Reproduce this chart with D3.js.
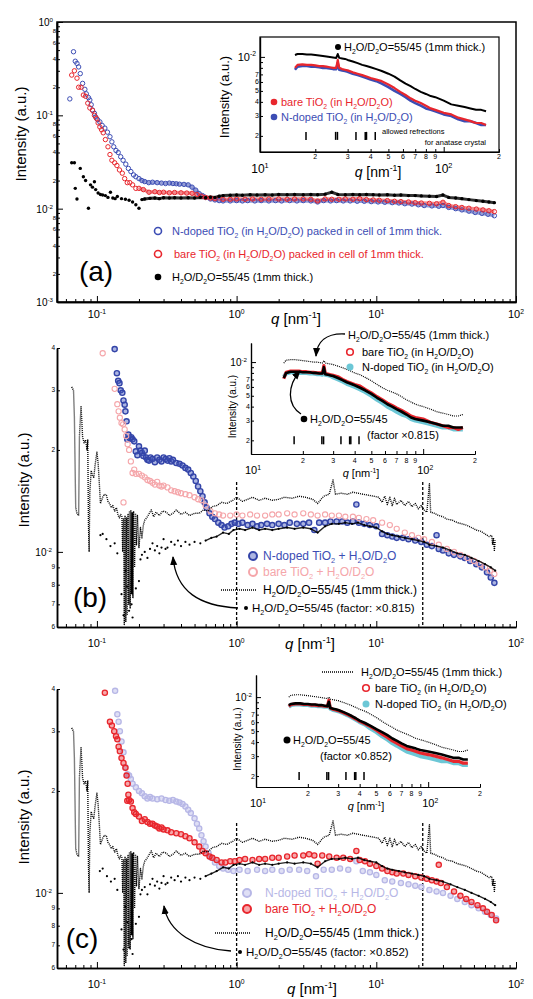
<!DOCTYPE html>
<html>
<head>
<meta charset="utf-8">
<script src="https://cdn.jsdelivr.net/npm/d3@7"></script>
<style>
body { margin: 0; background: #fff; }
svg { display: block; }
text { font-family: "Liberation Sans", Arial, sans-serif; white-space: pre; }
</style>
</head>
<body>
<svg id="chart" width="533" height="999"></svg>
<script>
// ---------- data (q in nm^-1, intensity in a.u.) ----------

// panel (a), main plot
const nDopedA = [[0.064,0.15],[0.068,0.48],[0.070,0.38],[0.072,0.36],[0.074,0.33],[0.076,0.28],[0.079,0.22],[0.082,0.19],[0.084,0.17],[0.087,0.155],[0.089,0.146],[0.091,0.13],[0.093,0.114],[0.096,0.105],[0.098,0.096],[0.101,0.09],[0.105,0.085],[0.109,0.078],[0.114,0.073],[0.119,0.066],[0.124,0.059],[0.128,0.052],[0.132,0.046],[0.137,0.042],[0.142,0.040],[0.148,0.036],[0.154,0.033],[0.161,0.030],[0.168,0.027],[0.175,0.025],[0.183,0.023],[0.19,0.022],[0.2,0.021],[0.21,0.020],[0.22,0.0195],[0.235,0.019],[0.25,0.0192],[0.27,0.019],[0.29,0.0188],[0.31,0.0186],[0.33,0.0188],[0.35,0.0186],[0.37,0.0185],[0.39,0.0183],[0.42,0.0182],[0.45,0.018],[0.48,0.017],[0.51,0.0158],[0.54,0.0145],[0.57,0.0138],[0.6,0.0132],[0.65,0.0127],[0.7,0.0124],[0.75,0.0122],[0.8,0.0121],[0.9,0.0121],[1.0,0.0122],[1.1,0.0121],[1.2,0.0122],[1.35,0.0121],[1.5,0.0122],[1.7,0.0121],[1.9,0.0122],[2.1,0.0121],[2.4,0.0122],[2.7,0.0121],[3.0,0.0122],[3.4,0.0121],[3.8,0.0118],[4.2,0.0122],[4.7,0.0121],[5.2,0.0122],[5.8,0.0121],[6.5,0.0121],[7.3,0.0120],[8.2,0.0120],[9.2,0.0119],[10.3,0.0118],[11.5,0.0117],[13,0.0116],[14.5,0.0115],[16,0.0113],[18,0.0112],[20,0.0110],[22,0.0108],[25,0.0107],[28,0.0106],[30,0.0108],[33,0.0103],[37,0.0100],[41,0.0097],[46,0.0094],[51,0.0091],[57,0.0089],[63,0.0087],[70,0.0084]];
const bareA = [[0.066,0.27],[0.069,0.30],[0.072,0.25],[0.074,0.20],[0.077,0.2],[0.080,0.165],[0.083,0.16],[0.086,0.135],[0.089,0.12],[0.093,0.113],[0.096,0.1],[0.099,0.093],[0.102,0.083],[0.105,0.075],[0.108,0.07],[0.111,0.065],[0.115,0.055],[0.12,0.046],[0.124,0.038],[0.128,0.033],[0.134,0.031],[0.139,0.029],[0.145,0.026],[0.152,0.024],[0.158,0.021],[0.165,0.019],[0.172,0.019],[0.18,0.018],[0.19,0.0165],[0.2,0.0165],[0.215,0.016],[0.236,0.015],[0.26,0.0152],[0.28,0.0149],[0.3,0.015],[0.33,0.0148],[0.36,0.0149],[0.4,0.0148],[0.44,0.0147],[0.48,0.0146],[0.52,0.0142],[0.56,0.0136],[0.6,0.0132],[0.65,0.013],[0.7,0.0128],[0.8,0.0126],[0.9,0.0126],[1.0,0.0127],[1.15,0.0126],[1.3,0.0127],[1.5,0.0126],[1.7,0.0127],[2,0.0127],[2.3,0.0126],[2.6,0.0127],[3,0.0127],[3.4,0.0126],[3.8,0.0121],[4.3,0.0127],[4.8,0.0126],[5.4,0.0126],[6,0.0127],[6.8,0.0126],[7.6,0.0128],[8.5,0.0125],[9.5,0.0124],[10.5,0.0123],[12,0.0122],[13.5,0.012],[15,0.0119],[17,0.0118],[19,0.0116],[21,0.0115],[24,0.0114],[27,0.0113],[30,0.0117],[33,0.0108],[37,0.0105],[41,0.0103],[46,0.0101],[52,0.0099],[58,0.0097],[64,0.0095],[70,0.0093]];
const waterA = [[0.066,0.031],[0.069,0.031],[0.070,0.0165],[0.072,0.0127],[0.076,0.027],[0.080,0.022],[0.083,0.020],[0.087,0.0101],[0.09,0.018],[0.093,0.017],[0.096,0.0194],[0.098,0.016],[0.102,0.0147],[0.106,0.0142],[0.11,0.014],[0.115,0.0138],[0.12,0.0132],[0.125,0.015],[0.13,0.013],[0.135,0.0128],[0.14,0.0135],[0.15,0.0128],[0.16,0.0126],[0.17,0.0123],[0.18,0.0118],[0.19,0.011],[0.2,0.0101],[0.21,0.0125],[0.22,0.0127],[0.24,0.0129],[0.26,0.013],[0.28,0.0128],[0.3,0.0131],[0.33,0.013],[0.36,0.0131],[0.4,0.013],[0.45,0.0131],[0.5,0.013],[0.55,0.0132],[0.6,0.0131],[0.65,0.0133],[0.7,0.0132],[0.75,0.0136],[0.8,0.0138],[0.9,0.0139],[1,0.0140],[1.1,0.0139],[1.25,0.0141],[1.4,0.014],[1.6,0.0141],[1.8,0.014],[2,0.0142],[2.3,0.0141],[2.6,0.0142],[3,0.0141],[3.4,0.0142],[3.8,0.0141],[4.3,0.0143],[4.8,0.015],[5.3,0.0142],[6,0.0141],[6.8,0.0142],[7.6,0.0141],[8.5,0.0142],[9.5,0.0141],[10.5,0.0140],[12,0.0141],[13.5,0.0139],[15,0.0140],[17,0.0138],[19,0.0138],[21,0.0137],[24,0.0136],[27,0.0135],[30,0.0140],[33,0.0132],[37,0.0130],[41,0.0128],[46,0.0125],[52,0.0122],[58,0.0120],[64,0.0118],[70,0.0116]];

// panels (b) and (c), main plots
const nDopedB = [[0.134,0.0397],[0.139,0.0337],[0.142,0.032],[0.145,0.0315],[0.148,0.030],[0.152,0.0295],[0.155,0.028],[0.158,0.0272],[0.16,0.026],[0.163,0.0243],[0.165,0.0215],[0.168,0.0222],[0.172,0.0217],[0.176,0.0218],[0.18,0.0215],[0.185,0.0212],[0.19,0.0198],[0.195,0.0193],[0.2,0.0205],[0.205,0.0199],[0.21,0.0196],[0.215,0.0192],[0.22,0.0199],[0.225,0.019],[0.23,0.0187],[0.236,0.0186],[0.242,0.019],[0.25,0.0188],[0.26,0.0184],[0.27,0.019],[0.28,0.0187],[0.29,0.0185],[0.3,0.019],[0.31,0.0188],[0.32,0.0186],[0.33,0.0189],[0.34,0.0185],[0.35,0.0187],[0.37,0.0183],[0.39,0.0182],[0.41,0.018],[0.43,0.0177],[0.45,0.0175],[0.47,0.0171],[0.49,0.0167],[0.51,0.0162],[0.53,0.0156],[0.55,0.0151],[0.57,0.0146],[0.59,0.014],[0.61,0.0135],[0.64,0.013],[0.67,0.0127],[0.7,0.0125],[0.74,0.0122],[0.78,0.012],[0.82,0.0118],[0.87,0.0119],[0.92,0.0121],[0.97,0.0122],[1.03,0.0121],[1.1,0.0122],[1.2,0.012],[1.3,0.0121],[1.4,0.0119],[1.5,0.012],[1.65,0.0121],[1.8,0.012],[2,0.0121],[2.2,0.012],[2.4,0.0122],[2.7,0.0121],[3,0.0121],[3.3,0.0122],[3.6,0.0116],[3.9,0.0122],[4.3,0.0122],[4.7,0.0123],[5.2,0.0123],[5.7,0.0123],[6.2,0.0122],[6.8,0.0123],[7.2,0.0138],[7.5,0.0122],[8.2,0.0121],[9,0.012],[10,0.0119],[11,0.0113],[12,0.0112],[13,0.0111],[14,0.011],[15.5,0.011],[17,0.0109],[19,0.0108],[21,0.0107],[23,0.0105],[25,0.0104],[27,0.0112],[28,0.0102],[30,0.0101],[33,0.0099],[36,0.0098],[40,0.0097],[43,0.0096],[47,0.0094],[52,0.0092],[57,0.009],[62,0.0087],[66,0.0084],[70,0.0081]];
const bareB = [[0.11,0.0386],[0.134,0.0303],[0.14,0.0273],[0.143,0.026],[0.146,0.0249],[0.15,0.024],[0.154,0.0238],[0.155,0.014],[0.158,0.023],[0.162,0.022],[0.166,0.0208],[0.17,0.02],[0.175,0.0185],[0.18,0.0171],[0.185,0.0175],[0.19,0.017],[0.2,0.017],[0.21,0.0168],[0.22,0.0166],[0.23,0.0163],[0.24,0.0162],[0.25,0.016],[0.26,0.0158],[0.27,0.0161],[0.28,0.0157],[0.29,0.0156],[0.3,0.0157],[0.32,0.0155],[0.34,0.0152],[0.36,0.0151],[0.38,0.015],[0.4,0.0149],[0.43,0.0148],[0.46,0.0147],[0.5,0.0145],[0.53,0.0143],[0.56,0.0142],[0.6,0.0137],[0.65,0.0132],[0.7,0.013],[0.75,0.0129],[0.8,0.0128],[0.9,0.0128],[1,0.0129],[1.1,0.0128],[1.25,0.0129],[1.4,0.0128],[1.6,0.0128],[1.8,0.0129],[2,0.0129],[2.3,0.013],[2.6,0.0129],[3,0.013],[3.4,0.0129],[3.8,0.0128],[4.3,0.0129],[4.8,0.0128],[5.4,0.0128],[6,0.0127],[6.8,0.0127],[7.5,0.0126],[8.5,0.0125],[9.5,0.0124],[11,0.0122],[12.5,0.012],[14,0.0117],[16,0.0114],[18,0.0112],[20,0.011],[22,0.0109],[25,0.0107],[28,0.0105],[32,0.0102],[36,0.01],[40,0.0098],[45,0.0096],[50,0.0094],[55,0.0092],[60,0.009],[65,0.0088],[70,0.0086]];
const water1mm = [[0.066,0.0307],[0.068,0.030],[0.069,0.025],[0.0705,0.0135],[0.072,0.013],[0.074,0.0128],[0.075,0.022],[0.077,0.027],[0.079,0.0218],[0.081,0.021],[0.083,0.0214],[0.085,0.020],[0.086,0.0214],[0.087,0.012],[0.088,0.010],[0.089,0.015],[0.091,0.0174],[0.093,0.0168],[0.095,0.0166],[0.097,0.018],[0.1,0.0197],[0.102,0.0183],[0.104,0.016],[0.106,0.0139],[0.108,0.0142],[0.11,0.0145],[0.113,0.0148],[0.117,0.0147],[0.12,0.0141],[0.123,0.0139],[0.127,0.0135],[0.13,0.0137],[0.134,0.0132],[0.138,0.0135],[0.142,0.0128],[0.145,0.0126],[0.148,0.0129],[0.151,0.0127],[0.153,0.0100],[0.155,0.0125],[0.157,0.0061],[0.159,0.0128],[0.161,0.0062],[0.163,0.0126],[0.165,0.0065],[0.167,0.0129],[0.169,0.0070],[0.171,0.0132],[0.173,0.0068],[0.175,0.0133],[0.177,0.0075],[0.179,0.0131],[0.181,0.0073],[0.183,0.0132],[0.186,0.0090],[0.189,0.0130],[0.192,0.0105],[0.195,0.0128],[0.2,0.0103],[0.205,0.0118],[0.21,0.011],[0.215,0.012],[0.22,0.0124],[0.227,0.0126],[0.235,0.0129],[0.245,0.0133],[0.255,0.0127],[0.265,0.0131],[0.28,0.0128],[0.295,0.0132],[0.315,0.0131],[0.33,0.0128],[0.35,0.013],[0.37,0.0133],[0.4,0.0129],[0.43,0.0131],[0.46,0.0128],[0.5,0.013],[0.54,0.013],[0.58,0.0133],[0.62,0.0132],[0.67,0.0136],[0.72,0.0137],[0.78,0.014],[0.85,0.0139],[0.94,0.0142],[1.0,0.0145],[1.1,0.0141],[1.2,0.0143],[1.3,0.0145],[1.45,0.0142],[1.6,0.0144],[1.8,0.0142],[2.0,0.0143],[2.2,0.0145],[2.5,0.0144],[2.8,0.0146],[3.1,0.0145],[3.5,0.0143],[3.8,0.0139],[4.2,0.0146],[4.6,0.0148],[4.9,0.0163],[5.1,0.0148],[5.6,0.0149],[6.2,0.0148],[6.8,0.0150],[7.4,0.0149],[8,0.0148],[8.8,0.0147],[9.6,0.0146],[10.4,0.0145],[11,0.0140],[11.5,0.0146],[12,0.0138],[12.5,0.0145],[13,0.0137],[13.5,0.0144],[14,0.0138],[15,0.0142],[16,0.0137],[17,0.0141],[18,0.0136],[19,0.0139],[20,0.0134],[21,0.0137],[22,0.0133],[23,0.0131],[24,0.0159],[24.5,0.0131],[26,0.0130],[28,0.0128],[30,0.0127],[32,0.0125],[35,0.0124],[38,0.0122],[41,0.0121],[44,0.0120],[48,0.0118],[52,0.0116],[56,0.0115],[60,0.0113],[64,0.0111],[67,0.0112],[68,0.0105],[69,0.0110],[70,0.0101],[71,0.0108]];
const factorB = [[0.106,0.0112],[0.11,0.0113],[0.117,0.0109],[0.125,0.0104],[0.134,0.0106],[0.14,0.0099],[0.15,0.0075],[0.155,0.0065],[0.16,0.0088],[0.165,0.0079],[0.17,0.0067],[0.177,0.007],[0.18,0.0064],[0.19,0.0078],[0.2,0.0082],[0.205,0.0095],[0.21,0.0098],[0.22,0.01],[0.23,0.0096],[0.24,0.0102],[0.25,0.0106],[0.26,0.0101],[0.27,0.0104],[0.28,0.0099],[0.29,0.0103],[0.3,0.0109],[0.31,0.0102],[0.32,0.0103],[0.34,0.0107],[0.36,0.0105],[0.38,0.0108],[0.4,0.0104],[0.43,0.0107],[0.46,0.0105],[0.5,0.0107],[0.55,0.0106],[0.6,0.0108],[0.66,0.011],[0.72,0.0111],[0.8,0.0114],[0.88,0.0113],[0.95,0.0116],[1.05,0.0117],[1.15,0.0116],[1.3,0.0118],[1.45,0.0116],[1.6,0.0117],[1.8,0.0116],[2,0.0117],[2.3,0.0118],[2.6,0.0117],[3,0.0118],[3.4,0.0117],[3.8,0.0114],[4.3,0.0119],[4.8,0.0121],[5.4,0.0121],[6,0.0122],[6.7,0.0121],[7.4,0.0122],[8.2,0.012],[9,0.0119],[10,0.0118],[11,0.0115],[12,0.0113],[13,0.0112],[14.5,0.0111],[16,0.011],[18,0.0109],[20,0.0108],[22,0.0107],[24,0.0105],[27,0.0104],[30,0.0103],[34,0.0101],[38,0.0099],[43,0.0098],[48,0.0096],[54,0.0094],[60,0.0092],[66,0.009],[71,0.0088]];
const bareC = [[0.114,0.039],[0.124,0.032],[0.128,0.0312],[0.133,0.030],[0.137,0.029],[0.14,0.0284],[0.143,0.027],[0.146,0.0262],[0.15,0.025],[0.155,0.0242],[0.16,0.0234],[0.163,0.0222],[0.166,0.021],[0.168,0.0195],[0.165,0.0187],[0.17,0.0188],[0.175,0.0186],[0.18,0.0178],[0.185,0.0173],[0.19,0.0171],[0.2,0.0168],[0.21,0.0163],[0.22,0.0165],[0.23,0.0162],[0.24,0.016],[0.25,0.016],[0.26,0.0158],[0.27,0.0157],[0.28,0.0155],[0.29,0.0156],[0.3,0.0154],[0.32,0.0153],[0.34,0.0151],[0.37,0.015],[0.4,0.0149],[0.43,0.0147],[0.46,0.0145],[0.5,0.0141],[0.54,0.0137],[0.57,0.0133],[0.6,0.0131],[0.64,0.0128],[0.67,0.0127],[0.72,0.0125],[0.78,0.0123],[0.83,0.0123],[0.9,0.0124],[0.97,0.0124],[1.05,0.0125],[1.15,0.0126],[1.3,0.0125],[1.45,0.0126],[1.6,0.0126],[1.8,0.0127],[2,0.0127],[2.3,0.0128],[2.6,0.0129],[3,0.0129],[3.3,0.013],[3.6,0.0129],[3.8,0.0122],[4.1,0.0129],[4.6,0.0128],[5.2,0.0127],[5.8,0.0127],[6.5,0.0126],[7.2,0.0133],[7.6,0.0125],[8.3,0.0124],[9,0.0122],[10,0.012],[11,0.0118],[12,0.0116],[13,0.0115],[14,0.0114],[15.6,0.0114],[17,0.0113],[19,0.0112],[21,0.0111],[23,0.011],[25,0.0109],[27,0.0108],[28,0.0121],[29,0.0107],[32,0.0104],[36,0.0101],[40,0.0098],[44,0.0096],[48,0.0094],[53,0.0092],[58,0.009],[62,0.0088],[67,0.0086],[72,0.0083]];
const nDopedC = [[0.135,0.0395],[0.14,0.0337],[0.143,0.032],[0.146,0.03],[0.15,0.028],[0.155,0.026],[0.16,0.0235],[0.165,0.0224],[0.17,0.0222],[0.175,0.0217],[0.18,0.021],[0.19,0.0205],[0.2,0.02],[0.21,0.0197],[0.22,0.0193],[0.23,0.019],[0.24,0.0192],[0.25,0.019],[0.27,0.0189],[0.29,0.019],[0.31,0.0188],[0.33,0.0187],[0.35,0.0188],[0.37,0.0186],[0.39,0.0185],[0.41,0.0183],[0.43,0.018],[0.45,0.0176],[0.47,0.0172],[0.5,0.0166],[0.52,0.016],[0.54,0.0155],[0.56,0.0148],[0.58,0.0142],[0.6,0.0137],[0.63,0.0131],[0.66,0.0127],[0.7,0.0123],[0.75,0.012],[0.8,0.0118],[0.87,0.0117],[0.95,0.0116],[1.05,0.0117],[1.2,0.0116],[1.4,0.0117],[1.6,0.0116],[1.8,0.0117],[2.1,0.0116],[2.4,0.0117],[2.8,0.0117],[3.2,0.0116],[3.7,0.0112],[4.2,0.0117],[4.8,0.0117],[5.5,0.0118],[6.3,0.0117],[7.2,0.0124],[8,0.0116],[9,0.0115],[10,0.0113],[11.5,0.0109],[13,0.0108],[15,0.0107],[17,0.0106],[19,0.0105],[21,0.0104],[24,0.0102],[27,0.0101],[30,0.01],[34,0.0098],[38,0.0096],[43,0.0094],[48,0.0092],[54,0.009],[60,0.0088],[66,0.0086],[72,0.0084]];
const factorC = [[0.105,0.0116],[0.11,0.0118],[0.118,0.0112],[0.126,0.0108],[0.134,0.0110],[0.14,0.0102],[0.15,0.0078],[0.155,0.0068],[0.16,0.0091],[0.165,0.0082],[0.17,0.0069],[0.177,0.0073],[0.18,0.0066],[0.19,0.0081],[0.2,0.0085],[0.205,0.0099],[0.21,0.0102],[0.22,0.0104],[0.23,0.0099],[0.24,0.0106],[0.25,0.011],[0.26,0.0105],[0.27,0.0108],[0.28,0.0103],[0.29,0.0107],[0.3,0.0112],[0.31,0.0106],[0.32,0.0107],[0.34,0.0111],[0.36,0.0109],[0.38,0.0112],[0.4,0.0108],[0.43,0.0111],[0.46,0.0109],[0.5,0.0111],[0.55,0.011],[0.6,0.0112],[0.66,0.0114],[0.72,0.0116],[0.8,0.0119],[0.88,0.0118],[0.95,0.0121],[1.05,0.0122],[1.15,0.0121],[1.3,0.0123],[1.45,0.0121],[1.6,0.0122],[1.8,0.0121],[2,0.0122],[2.3,0.0123],[2.6,0.0122],[3,0.0123],[3.4,0.0122],[3.8,0.0119],[4.3,0.0124],[4.8,0.0126],[5.4,0.0126],[6,0.0127],[6.7,0.0126],[7.4,0.0127],[8.2,0.0125],[9,0.0124],[10,0.0123],[11,0.012],[12,0.0118],[13,0.0117],[14.5,0.0116],[16,0.0115],[18,0.0114],[20,0.0113],[22,0.0112],[24,0.011],[27,0.0109],[30,0.0108],[34,0.0106],[38,0.0104],[43,0.0102],[48,0.01],[54,0.0098],[60,0.0096],[66,0.0094],[71,0.0092]];

// insets: shared q grid and intensities
const insetQ = [15.5,16,17,18,19,20,21,22,23,24,25,26,26.5,27,28,29,30,32,34,36,38,40,43,46,50,54,58,62,66,70,75,80,85,90,100,110,120,130,140,150,160,170];
const waterInA = [0.0104,0.0106,0.0106,0.0105,0.0105,0.0104,0.0103,0.0102,0.0101,0.0100,0.0099,0.0098,0.0106,0.0098,0.0097,0.0096,0.0094,0.0091,0.0088,0.0085,0.0083,0.0081,0.0078,0.0075,0.0071,0.0067,0.0062,0.0058,0.0055,0.0052,0.0049,0.0047,0.0045,0.0044,0.0041,0.0038,0.0037,0.0036,0.0035,0.0034,0.0034,0.0033];
const bareInA = [0.0080,0.0085,0.0086,0.0085,0.0085,0.0084,0.0083,0.0083,0.0082,0.0081,0.0080,0.0080,0.0094,0.0080,0.0078,0.0077,0.0076,0.0073,0.0071,0.0069,0.0067,0.0065,0.0063,0.0061,0.0057,0.0053,0.0049,0.0046,0.0043,0.0041,0.0039,0.0037,0.0035,0.0034,0.0032,0.0031,0.0029,0.0028,0.0027,0.0026,0.0026,0.0025];
const nDopedInA = [0.0077,0.0082,0.0083,0.0083,0.0082,0.0082,0.0081,0.0080,0.0080,0.0079,0.0078,0.0078,0.0088,0.0077,0.0076,0.0075,0.0074,0.0071,0.0069,0.0067,0.0065,0.0063,0.0061,0.0058,0.0054,0.0050,0.0047,0.0044,0.0041,0.0039,0.0037,0.0035,0.0034,0.0033,0.0031,0.0030,0.0028,0.0027,0.0027,0.0026,0.0025,0.0025];
const waterInB = [0.0098,0.0104,0.0105,0.0105,0.0104,0.0103,0.0102,0.0101,0.0100,0.0100,0.0099,0.0098,0.0103,0.0098,0.0097,0.0096,0.0095,0.0092,0.0089,0.0086,0.0083,0.0080,0.0077,0.0073,0.0068,0.0063,0.0059,0.0056,0.0054,0.0052,0.0049,0.0046,0.0044,0.0042,0.0040,0.0038,0.0036,0.0035,0.0034,0.0033,0.0033,0.0034];
const factorInB = [0.0072,0.0080,0.0082,0.0082,0.0082,0.0081,0.0081,0.0081,0.0080,0.0080,0.0079,0.0079,0.0090,0.0078,0.0077,0.0076,0.0075,0.0072,0.0069,0.0066,0.0064,0.0062,0.0059,0.0056,0.0052,0.0048,0.0045,0.0042,0.0040,0.0038,0.0036,0.0034,0.0032,0.0031,0.0030,0.0029,0.0028,0.0027,0.0027,0.0026,0.0026,0.0026];
const bareInB = [0.0071,0.0081,0.0083,0.0083,0.0083,0.0082,0.0082,0.0081,0.0081,0.0080,0.0080,0.0080,0.0093,0.0079,0.0078,0.0077,0.0076,0.0074,0.0070,0.0067,0.0065,0.0063,0.0061,0.0057,0.0053,0.0049,0.0046,0.0043,0.0041,0.0039,0.0037,0.0035,0.0033,0.0032,0.0031,0.0029,0.0028,0.0027,0.0026,0.0026,0.0025,0.0026];
const nDopedInB = [0.0074,0.0079,0.0081,0.0081,0.0080,0.0080,0.0080,0.0079,0.0079,0.0078,0.0078,0.0077,0.0085,0.0077,0.0076,0.0075,0.0073,0.0070,0.0067,0.0064,0.0062,0.0060,0.0057,0.0054,0.0050,0.0046,0.0043,0.0040,0.0038,0.0036,0.0034,0.0033,0.0031,0.0030,0.0029,0.0028,0.0027,0.0026,0.0026,0.0025,0.0025,0.0025];
const waterInC = [0.0100,0.0104,0.0105,0.0105,0.0104,0.0103,0.0102,0.0101,0.0100,0.0099,0.0098,0.0097,0.0100,0.0096,0.0095,0.0094,0.0093,0.0090,0.0087,0.0084,0.0081,0.0078,0.0075,0.0071,0.0066,0.0061,0.0057,0.0054,0.0051,0.0049,0.0047,0.0045,0.0043,0.0042,0.0040,0.0038,0.0036,0.0035,0.0034,0.0033,0.0033,0.0034];
const factorInC = [0.0085,0.0087,0.0088,0.0088,0.0087,0.0087,0.0086,0.0086,0.0085,0.0085,0.0084,0.0083,0.0091,0.0080,0.0079,0.0078,0.0077,0.0074,0.0071,0.0068,0.0065,0.0062,0.0059,0.0056,0.0052,0.0049,0.0046,0.0043,0.0041,0.0039,0.0037,0.0036,0.0035,0.0034,0.0033,0.0032,0.0031,0.0030,0.0029,0.0029,0.0028,0.0028];
const bareInC = [0.0083,0.0086,0.0087,0.0087,0.0086,0.0086,0.0085,0.0085,0.0084,0.0084,0.0083,0.0083,0.0094,0.0080,0.0078,0.0077,0.0076,0.0073,0.0070,0.0067,0.0064,0.0061,0.0058,0.0055,0.0051,0.0047,0.0044,0.0041,0.0039,0.0037,0.0035,0.0034,0.0033,0.0032,0.0031,0.0030,0.0029,0.0028,0.0027,0.0027,0.0026,0.0026];
const nDopedInC = [0.0082,0.0085,0.0086,0.0086,0.0085,0.0085,0.0084,0.0084,0.0083,0.0083,0.0082,0.0082,0.0087,0.0079,0.0077,0.0076,0.0075,0.0072,0.0069,0.0066,0.0063,0.0060,0.0057,0.0053,0.0049,0.0045,0.0042,0.0039,0.0037,0.0035,0.0033,0.0032,0.0031,0.0030,0.0029,0.0028,0.0027,0.0027,0.0026,0.0026,0.0025,0.0025];

// allowed reflections for anatase crystal (inset q positions)
const anataseQ = [17.8, 25.8, 26.4, 33.3, 37.4, 38.0, 42.4];
// vertical dashed guide lines in (b) and (c)
const guideQ = [1.0, 21.5];

// ---------- helpers ----------
const BLUE = '#3c4db4', RED = '#e8262d', PINK = '#f5a6aa', LAV = '#b7b7e6', CYAN = '#6cc7d6';
const svg = d3.select('#chart');
const defs = svg.append('defs');
defs.append('marker').attr('id', 'arrow')
    .attr('viewBox', '0 0 10 10').attr('refX', 9).attr('refY', 5)
    .attr('markerWidth', 9).attr('markerHeight', 9)
    .attr('markerUnits', 'userSpaceOnUse').attr('orient', 'auto')
    .append('path').attr('d', 'M0,1 L10,5 L0,9 z').attr('fill', '#000');

const isPow10 = v => Math.abs(Math.log10(v) - Math.round(Math.log10(v))) < 1e-6;
const mant = v => Math.round(v / Math.pow(10, Math.floor(Math.log10(v) + 1e-9)));

// text with _{sub}, ^{sup} and ~{italic}
function rich(g, x, y, str, size, o = {}) {
    const t = g.append('text').attr('x', x).attr('y', y).attr('font-size', size)
        .attr('fill', o.fill || '#000').attr('text-anchor', o.anchor || 'start');
    if (o.rotate) t.attr('transform', `rotate(-90,${x},${y})`);
    let shift = 0;
    str.split(/(_\{[^}]*\}|\^\{[^}]*\}|~\{[^}]*\})/).filter(s => s).forEach(s => {
        let dy = 0, txt = s, small = false, ital = false;
        if (s.startsWith('_{')) { dy = size * 0.28; txt = s.slice(2, -1); small = true; }
        else if (s.startsWith('^{')) { dy = -size * 0.4; txt = s.slice(2, -1); small = true; }
        else if (s.startsWith('~{')) { txt = s.slice(2, -1); ital = true; }
        const ts = t.append('tspan').attr('dy', (dy - shift).toFixed(2)).text(txt);
        if (small) ts.attr('font-size', (size * 0.62).toFixed(1));
        if (ital) ts.attr('font-style', 'italic');
        shift = dy;
    });
    return t;
}

function styleAxis(ax, w) {
    ax.select('.domain').attr('stroke-width', w);
    ax.selectAll('.tick line').attr('stroke-width', 1);
}

function xAxis(g, x, y0, majLen, minLen, w) {
    const t = x.ticks();
    const a1 = g.append('g').attr('transform', `translate(0,${y0})`)
        .call(d3.axisBottom(x).tickValues(t.filter(v => !isPow10(v))).tickSize(-minLen).tickSizeOuter(0).tickFormat(''));
    const a2 = g.append('g').attr('transform', `translate(0,${y0})`)
        .call(d3.axisBottom(x).tickValues(t.filter(isPow10)).tickSize(-majLen).tickSizeOuter(0).tickFormat(''));
    styleAxis(a1, w); styleAxis(a2, w);
    return t;
}

function yAxis(g, y, x0, majLen, minLen, w) {
    const t = y.ticks();
    const a1 = g.append('g').attr('transform', `translate(${x0},0)`)
        .call(d3.axisLeft(y).tickValues(t.filter(v => !isPow10(v))).tickSize(-minLen).tickSizeOuter(0).tickFormat(''));
    const a2 = g.append('g').attr('transform', `translate(${x0},0)`)
        .call(d3.axisLeft(y).tickValues(t.filter(isPow10)).tickSize(-majLen).tickSizeOuter(0).tickFormat(''));
    styleAxis(a1, w); styleAxis(a2, w);
    return t;
}

function circles(g, data, x, y, o) {
    g.append('g').selectAll('circle').data(data).join('circle')
        .attr('cx', d => x(d[0])).attr('cy', d => y(d[1])).attr('r', o.r)
        .attr('fill', o.fill || 'none').attr('stroke', o.stroke || 'none')
        .attr('stroke-width', o.sw || 1);
}

function pathLine(g, data, x, y, o) {
    g.append('path').datum(data)
        .attr('d', d3.line().x(d => x(d[0])).y(d => y(d[1])))
        .attr('fill', 'none').attr('stroke', o.stroke).attr('stroke-width', o.sw)
        .attr('stroke-opacity', o.opacity || 1)
        .attr('stroke-dasharray', o.dash || null).attr('stroke-linejoin', 'round');
}

function clipRect(id, x, y, w, h) {
    defs.append('clipPath').attr('id', id).append('rect')
        .attr('x', x).attr('y', y).attr('width', w).attr('height', h);
    return `url(#${id})`;
}

const xMain = d3.scaleLog().domain([0.0518, 100]).range([57, 516]);

function mainXLabels(g, yLab, yTitle, cx) {
    xMain.ticks().filter(isPow10).forEach(v => {
        rich(g, xMain(v), yLab, `10^{${Math.round(Math.log10(v))}}`, 11, { anchor: 'middle' });
    });
    rich(g, cx, yTitle, '~{q} [nm^{-1}]', 15, { anchor: 'middle' });
}

// ---------- panel (a) ----------
{
    const g = svg.append('g');
    const y = d3.scaleLog().domain([1e-3, 1]).range([302, 22]);
    const clip = clipRect('clipA', 57, 22, 459, 280);
    xAxis(g, xMain, 302, 6, 3, 1.5);
    const yt = yAxis(g, y, 57, 6, 3, 1.5);
    g.append('rect').attr('x', 57).attr('y', 22).attr('width', 459).attr('height', 280)
        .attr('fill', 'none').attr('stroke', '#000').attr('stroke-width', 1.5);
    yt.forEach(v => {
        if (isPow10(v)) rich(g, 53, y(v) + 4, `10^{${Math.round(Math.log10(v))}}`, 10, { anchor: 'end' });
        else if (mant(v) % 2 === 0) rich(g, 56, y(v) + 2, String(mant(v)), 6, { anchor: 'end' });
    });
    mainXLabels(g, 318, 324, 296);
    rich(g, 26, 134, 'Intensity (a.u.)', 15, { anchor: 'middle', rotate: true });

    const d = g.append('g').attr('clip-path', clip);
    // dense plateau: the overlapping markers form a continuous band
    pathLine(d, nDopedA.filter(p => p[0] >= 0.2), xMain, y, { stroke: BLUE, sw: 3.6, opacity: 0.55 });
    pathLine(d, bareA.filter(p => p[0] >= 0.2), xMain, y, { stroke: RED, sw: 3.6, opacity: 0.55 });
    pathLine(d, waterA.filter(p => p[0] >= 0.21), xMain, y, { stroke: '#000', sw: 3, opacity: 0.8 });
    circles(d, nDopedA, xMain, y, { r: 2.2, stroke: BLUE, sw: 1 });
    circles(d, bareA, xMain, y, { r: 2.2, stroke: RED, sw: 1 });
    circles(d, waterA, xMain, y, { r: 1.7, fill: '#000' });

    // legend
    circles(g, [[0, 0]], () => 158, () => 231, { r: 3.5, stroke: BLUE, sw: 1.6 });
    rich(g, 172, 235, 'N-doped TiO_{2} (in H_{2}O/D_{2}O) packed in cell of 1mm thick.', 11, { fill: BLUE });
    circles(g, [[0, 0]], () => 158, () => 254, { r: 3.5, stroke: RED, sw: 1.6 });
    rich(g, 174, 258, 'bare TiO_{2} (in H_{2}O/D_{2}O) packed in cell of 1mm thick.', 11, { fill: RED });
    circles(g, [[0, 0]], () => 158, () => 277, { r: 3.3, fill: '#000' });
    rich(g, 172, 281, 'H_{2}O/D_{2}O=55/45 (1mm thick.)', 11);
    g.append('text').attr('x', 96).attr('y', 281).attr('text-anchor', 'middle')
        .attr('font-family', '"Liberation Serif", serif').attr('font-size', 28).text('(a)');

    // inset
    const ix = d3.scaleLog().domain([10, 200]).range([260, 499]);
    const iy = d3.scaleLog().domain([0.00144, 0.015]).range([152, 37]);
    g.append('rect').attr('x', 260).attr('y', 37).attr('width', 239).attr('height', 115).attr('fill', '#fff');
    const ixt = xAxis(g, ix, 152, 5, 3, 1.2);
    const iyt = yAxis(g, iy, 260, 5, 3, 1.2);
    g.append('rect').attr('x', 260).attr('y', 37).attr('width', 239).attr('height', 115)
        .attr('fill', 'none').attr('stroke', '#000').attr('stroke-width', 1.2);
    ixt.forEach(v => {
        if (isPow10(v)) rich(g, ix(v), 173, `10^{${Math.round(Math.log10(v))}}`, 12, { anchor: 'middle' });
        else rich(g, ix(v), 159, String(mant(v)), 7, { anchor: 'middle' });
    });
    iyt.forEach(v => {
        if (isPow10(v)) rich(g, 256, iy(v) + 4, `10^{${Math.round(Math.log10(v))}}`, 11, { anchor: 'end' });
        else if (mant(v) <= 7) rich(g, 259, iy(v) + 2.5, String(mant(v)), 7, { anchor: 'end' });
    });
    rich(g, 229, 97, 'Intensity (a.u.)', 13, { anchor: 'middle', rotate: true });
    rich(g, 378, 177, '~{q} [nm^{-1}]', 14, { anchor: 'middle' });
    const id = g.append('g');
    pathLine(id, d3.zip(insetQ, nDopedInA), ix, iy, { stroke: BLUE, sw: 2.6 });
    pathLine(id, d3.zip(insetQ, bareInA), ix, iy, { stroke: RED, sw: 2.2 });
    pathLine(id, d3.zip(insetQ, waterInA), ix, iy, { stroke: '#000', sw: 2 });
    anataseQ.forEach(q => id.append('line').attr('x1', ix(q)).attr('x2', ix(q))
        .attr('y1', iy(0.002) - 4).attr('y2', iy(0.002) + 4).attr('stroke', '#000').attr('stroke-width', 1.5));
    circles(g, [[0, 0]], () => 338, () => 47, { r: 3, fill: '#000' });
    rich(g, 344, 51, 'H_{2}O/D_{2}O=55/45 (1mm thick.)', 11);
    circles(g, [[0, 0]], () => 274, () => 102, { r: 3.3, fill: RED });
    rich(g, 281, 106, 'bare TiO_{2} (in H_{2}O/D_{2}O)', 11, { fill: RED });
    circles(g, [[0, 0]], () => 274, () => 117, { r: 3.3, fill: BLUE });
    rich(g, 281, 121, 'N-doped TiO_{2} (in H_{2}O/D_{2}O)', 11, { fill: BLUE });
    rich(g, 382, 134, 'allowed refrections', 7.5);
    rich(g, 486, 145, 'for anatase crystal', 7.5, { anchor: 'end' });
}

// ---------- panels (b) and (c) ----------
function panelBC(cfg) {
    const g = svg.append('g');
    const y = d3.scaleLog().domain([0.006, 0.04]).range([cfg.y0, cfg.y0 - 279]);
    const clip = clipRect('clip' + cfg.key, 57, cfg.y0 - 285, 462, 286);
    xAxis(g, xMain, cfg.y0, 6, 3, 1.5);
    const yt = yAxis(g, y, 57, 6, 3, 1.5);
    yt.forEach(v => {
        if (isPow10(v)) rich(g, 52, y(v) + 4, '10^{-2}', 10, { anchor: 'end' });
        else rich(g, 55, y(v) + 2, String(mant(v)), 6.5, { anchor: 'end' });
    });
    mainXLabels(g, cfg.y0 + 20, cfg.y0 + 22 + (cfg.key === 'c' ? 4 : 0), cfg.titleX);
    rich(g, 29, cfg.yLabel, 'Intensity (a.u.)', 15, { anchor: 'middle', rotate: true });

    guideQ.forEach(q => g.append('line').attr('x1', xMain(q)).attr('x2', xMain(q))
        .attr('y1', cfg.y0 - 145).attr('y2', cfg.y0).attr('stroke', '#000')
        .attr('stroke-width', 1.3).attr('stroke-dasharray', '3,2'));

    const d = g.append('g').attr('clip-path', clip);
    cfg.series.forEach(s => {
        if (s.kind === 'dotted') pathLine(d, s.data, xMain, y, { stroke: '#000', sw: 1.4, dash: '1,1' });
        else {
            if (s.band) pathLine(d, s.data.filter(p => p[0] >= s.band), xMain, y, { stroke: '#000', sw: 1.4, opacity: 0.85 });
            circles(d, s.data, xMain, y, s.style);
        }
    });

    // legend
    const L = cfg.legend;
    circles(g, [[0, 0]], () => L.cx, () => L.y[0], Object.assign({}, cfg.series[0].style, { r: 4, sw: 2 }));
    rich(g, L.tx, L.y[0] + 4, cfg.series[0].label, 12, { fill: cfg.series[0].text });
    circles(g, [[0, 0]], () => L.cx, () => L.y[1], Object.assign({}, cfg.series[1].style, { r: 4, sw: 2 }));
    rich(g, L.tx, L.y[1] + 4, cfg.series[1].label, 12, { fill: cfg.series[1].text });
    g.append('line').attr('x1', L.cx - 32).attr('x2', L.cx + 4).attr('y1', L.y[2]).attr('y2', L.y[2])
        .attr('stroke', '#000').attr('stroke-width', 1.3).attr('stroke-dasharray', '1,1');
    rich(g, L.tx, L.y[2] + 4, 'H_{2}O/D_{2}O=55/45 (1mm thick.)', 12);
    circles(g, [[0, 0]], () => L.cx - 7, () => L.y[3], { r: 2, fill: '#000' });
    rich(g, L.cx - 1, L.y[3] + 4, `H_{2}O/D_{2}O=55/45 (factor: \u00d7${cfg.factor})`, 11.5);
    g.append('path').attr('d', cfg.arrow).attr('fill', 'none').attr('stroke', '#000')
        .attr('stroke-width', 1.3).attr('marker-end', 'url(#arrow)');
    g.append('text').attr('x', cfg.letterX).attr('y', cfg.y0 - 20).attr('text-anchor', 'middle')
        .attr('font-family', '"Liberation Serif", serif').attr('font-size', 28).text(cfg.letter);

    // inset
    const I = cfg.inset;
    const ix = d3.scaleLog().domain([10, 200]).range([I.x0, I.x1]);
    const iy = d3.scaleLog().domain(I.yDom).range([I.yb, I.yt]);
    const ixt = xAxis(g, ix, I.yb, 5, 3, 1.2);
    const iyt = yAxis(g, iy, I.x0, 5, 3, 1.2);
    ixt.forEach(v => {
        if (isPow10(v)) rich(g, ix(v) + 2, I.yb + 20, `10^{${Math.round(Math.log10(v))}}`, 11, { anchor: 'middle' });
        else rich(g, ix(v), I.yb + 9, String(mant(v)), 7, { anchor: 'middle' });
    });
    iyt.forEach(v => {
        if (isPow10(v)) rich(g, I.x0 - 4, iy(v) + 4, '10^{-2}', 10, { anchor: 'end' });
        else if (mant(v) <= 7) rich(g, I.x0 - 1, iy(v) + 2.5, String(mant(v)), 7, { anchor: 'end' });
    });
    rich(g, I.x0 - 15, (I.yb + I.yt) / 2 + 8, 'Intensity (a.u.)', 10, { anchor: 'middle', rotate: true });
    rich(g, (I.x0 + I.x1) / 2 - 2, I.yb + 23, '~{q} [nm^{-1}]', 11, { anchor: 'middle' });
    const id = g.append('g');
    pathLine(id, d3.zip(insetQ, I.nDoped), ix, iy, { stroke: CYAN, sw: 4 });
    pathLine(id, d3.zip(insetQ, I.bare), ix, iy, { stroke: RED, sw: 3.2 });
    pathLine(id, d3.zip(insetQ, I.factor), ix, iy, { stroke: '#000', sw: 2.6 });
    pathLine(id, d3.zip(insetQ, I.water), ix, iy, { stroke: '#000', sw: 1.2, dash: '1,1' });
    anataseQ.forEach(q => id.append('line').attr('x1', ix(q)).attr('x2', ix(q))
        .attr('y1', iy(0.002) - 4).attr('y2', iy(0.002) + 4).attr('stroke', '#000').attr('stroke-width', 1.5));
    I.legend(g);
}

panelBC({
    key: 'b', y0: 627, letter: '(b)', letterX: 90, titleX: 310, yLabel: 480, factor: '0.815',
    series: [
        { data: nDopedB, label: 'N-doped TiO_{2} + H_{2}O/D_{2}O', text: BLUE,
          style: { r: 2.6, stroke: '#3344a8', fill: 'rgba(70,90,190,0.45)', sw: 1.4 } },
        { data: bareB, label: 'bare TiO_{2} + H_{2}O/D_{2}O', text: PINK,
          style: { r: 2.6, stroke: PINK, sw: 1.1 } },
        { data: water1mm, kind: 'dotted' },
        { data: factorB, band: 0.6, style: { r: 1.1, fill: '#000' } }
    ],
    legend: { cx: 253, tx: 263, y: [556, 572, 590, 608] },
    arrow: 'M238,608 C200,606 176,592 173,557',
    inset: {
        x0: 251, x1: 475, yb: 454, yt: 343, yDom: [0.00151, 0.0148],
        water: waterInB, factor: factorInB, bare: bareInB, nDoped: nDopedInB,
        legend: g => {
            rich(g, 348, 339, 'H_{2}O/D_{2}O=55/45 (1mm thick.)', 11);
            g.append('path').attr('d', 'M345,334 C326,333 317,342 316,356').attr('fill', 'none')
                .attr('stroke', '#000').attr('stroke-width', 1.3).attr('marker-end', 'url(#arrow)');
            circles(g, [[0, 0]], () => 350, () => 352, { r: 3.3, stroke: RED, sw: 1.6 });
            rich(g, 362, 356, 'bare TiO_{2} (in H_{2}O/D_{2}O)', 11);
            circles(g, [[0, 0]], () => 350, () => 367, { r: 3.5, fill: CYAN });
            rich(g, 362, 371, 'N-doped TiO_{2} (in H_{2}O/D_{2}O)', 11);
            circles(g, [[0, 0]], () => 304, () => 419, { r: 3.3, fill: '#000' });
            rich(g, 310, 423, 'H_{2}O/D_{2}O=55/45', 11);
            rich(g, 367, 439, '(factor \u00d70.815)', 11);
            g.append('path').attr('d', 'M301,414 C287,405 287,386 300,371').attr('fill', 'none')
                .attr('stroke', '#000').attr('stroke-width', 1.3).attr('marker-end', 'url(#arrow)');
        }
    }
});

panelBC({
    key: 'c', y0: 968, letter: '(c)', letterX: 82, titleX: 312, yLabel: 817, factor: '0.852',
    series: [
        { data: nDopedC, label: 'N-doped TiO_{2} + H_{2}O/D_{2}O', text: LAV,
          style: { r: 2.6, stroke: LAV, fill: 'rgba(185,185,232,0.45)', sw: 1.3 } },
        { data: bareC, label: 'bare TiO_{2} + H_{2}O/D_{2}O', text: RED,
          style: { r: 2.6, stroke: RED, fill: 'rgba(232,38,45,0.4)', sw: 1.3 } },
        { data: water1mm, kind: 'dotted' },
        { data: factorC, band: 0.6, style: { r: 1.1, fill: '#000' } }
    ],
    legend: { cx: 247, tx: 265, y: [893, 909, 933, 952] },
    arrow: 'M231,951 C196,949 168,932 164,906',
    inset: {
        x0: 256, x1: 480, yb: 787, yt: 675, yDom: [0.0016, 0.0157],
        water: waterInC, factor: factorInC, bare: bareInC, nDoped: nDopedInC,
        legend: g => {
            g.append('line').attr('x1', 322).attr('x2', 353).attr('y1', 672).attr('y2', 672)
                .attr('stroke', '#000').attr('stroke-width', 1.3).attr('stroke-dasharray', '1,1');
            rich(g, 361, 676, 'H_{2}O/D_{2}O=55/45 (1mm thick.)', 11);
            circles(g, [[0, 0]], () => 366, () => 688, { r: 3.3, stroke: RED, sw: 1.6 });
            rich(g, 375, 692, 'bare TiO_{2} (in H_{2}O/D_{2}O)', 11);
            circles(g, [[0, 0]], () => 366, () => 704, { r: 3.5, fill: CYAN });
            rich(g, 375, 708, 'N-doped TiO_{2} (in H_{2}O/D_{2}O)', 11);
            circles(g, [[0, 0]], () => 287, () => 740, { r: 3.5, fill: '#000' });
            rich(g, 293, 744, 'H_{2}O/D_{2}O=55/45', 11);
            rich(g, 320, 760, '(factor \u00d70.852)', 11);
        }
    }
});
</script>
</body>
</html>
